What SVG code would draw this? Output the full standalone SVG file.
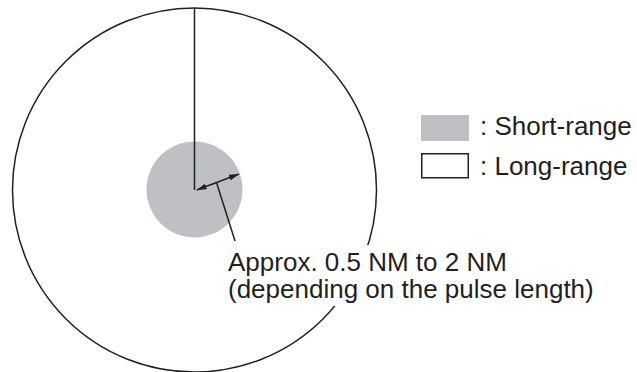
<svg xmlns="http://www.w3.org/2000/svg" width="637" height="372" viewBox="0 0 637 372">
<style>
.ln{fill:none;stroke:#231f20;stroke-width:1.5}
.tx{font-family:"Liberation Sans",Arial,Helvetica,sans-serif;font-size:26px;fill:#231f20}
.gray{fill:#bec0c3}
</style>
<defs>
<marker id="ah" viewBox="0 0 10 6" refX="10" refY="3" markerWidth="10" markerHeight="6" markerUnits="userSpaceOnUse" orient="auto-start-reverse">
<path d="M0,0 L10,3 L0,6 Z" fill="#231f20"/>
</marker>
</defs>
<rect width="637" height="372" fill="#fff"/>
<g id="long-range-circle">
<circle class="ln" cx="194.5" cy="190" r="182"/>
</g>
<g id="short-range-circle">
<circle class="gray" cx="194.5" cy="189.5" r="48"/>
</g>
<g id="connectors">
<line class="ln" x1="194.5" y1="8" x2="194.5" y2="190" stroke-width="2"/>
<line class="ln" x1="196.7" y1="190" x2="239" y2="174" stroke-width="1.3" marker-start="url(#ah)" marker-end="url(#ah)"/>
<line class="ln" x1="216.5" y1="182.5" x2="235" y2="241" stroke-width="1.3"/>
</g>
<g id="range-label">
<rect x="224" y="245" width="384" height="61" fill="#fff"/>
<text class="tx"><tspan x="228" y="271">Approx. 0.5 NM to 2 NM</tspan><tspan x="228" y="298">(depending on the pulse length)</tspan></text>
</g>
<g id="legend-short">
<rect class="gray" x="421" y="115" width="48" height="26"/>
<text class="tx" x="480" y="135">: Short-range</text>
</g>
<g id="legend-long">
<rect class="ln" x="421.75" y="153.75" width="46.5" height="24"/>
<text class="tx" x="480" y="175">: Long-range</text>
</g>
</svg>
